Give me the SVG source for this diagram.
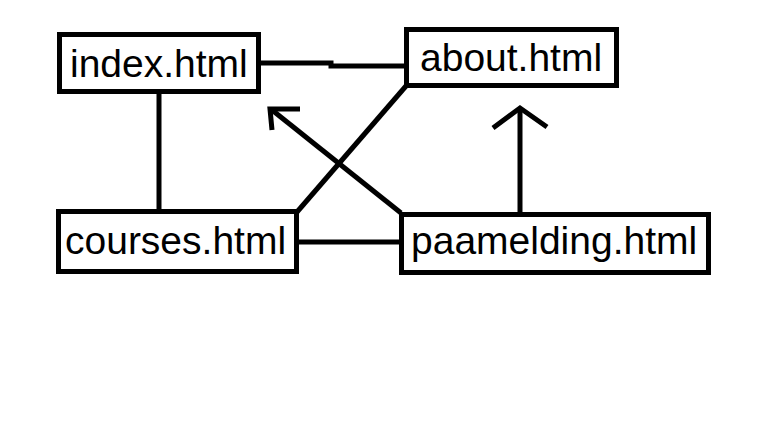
<svg xmlns="http://www.w3.org/2000/svg" width="782" height="438" viewBox="0 0 782 438">
<style>
.box{fill:#fff;stroke:#000;stroke-width:5}
.lbl{font-family:"Liberation Sans",Arial,sans-serif;font-size:39px;fill:#000}
.ln{fill:none;stroke:#000;stroke-width:5}
</style>
<rect width="782" height="438" fill="#fff"/>
<g id="connectors">
<polyline class="ln" points="259,63 331,63 331,66 404,66"/>
<line class="ln" x1="159" y1="92" x2="159" y2="212"/>
<line class="ln" x1="406" y1="86" x2="297" y2="212"/>
<line class="ln" x1="297" y1="242" x2="402" y2="242"/>
<line class="ln" x1="520" y1="110" x2="520" y2="213"/>
<polyline class="ln" points="493,128 520,108 547,127"/>
<line class="ln" x1="272" y1="110" x2="401" y2="213"/>
<polyline class="ln" points="272,130 270,109 300,109"/>
</g>
<g id="index">
<rect class="box" x="59.5" y="34.5" width="199" height="57"/>
<text class="lbl" x="70" y="77">index.html</text>
</g>
<g id="about">
<rect class="box" x="406.5" y="29.5" width="210" height="56"/>
<text class="lbl" x="420" y="71">about.html</text>
</g>
<g id="courses">
<rect class="box" x="58.5" y="211.5" width="238" height="60"/>
<text class="lbl" x="65" y="254">courses.html</text>
</g>
<g id="paamelding">
<rect class="box" x="401.5" y="214.5" width="307" height="58"/>
<text class="lbl" x="411" y="254">paamelding.html</text>
</g>
</svg>
